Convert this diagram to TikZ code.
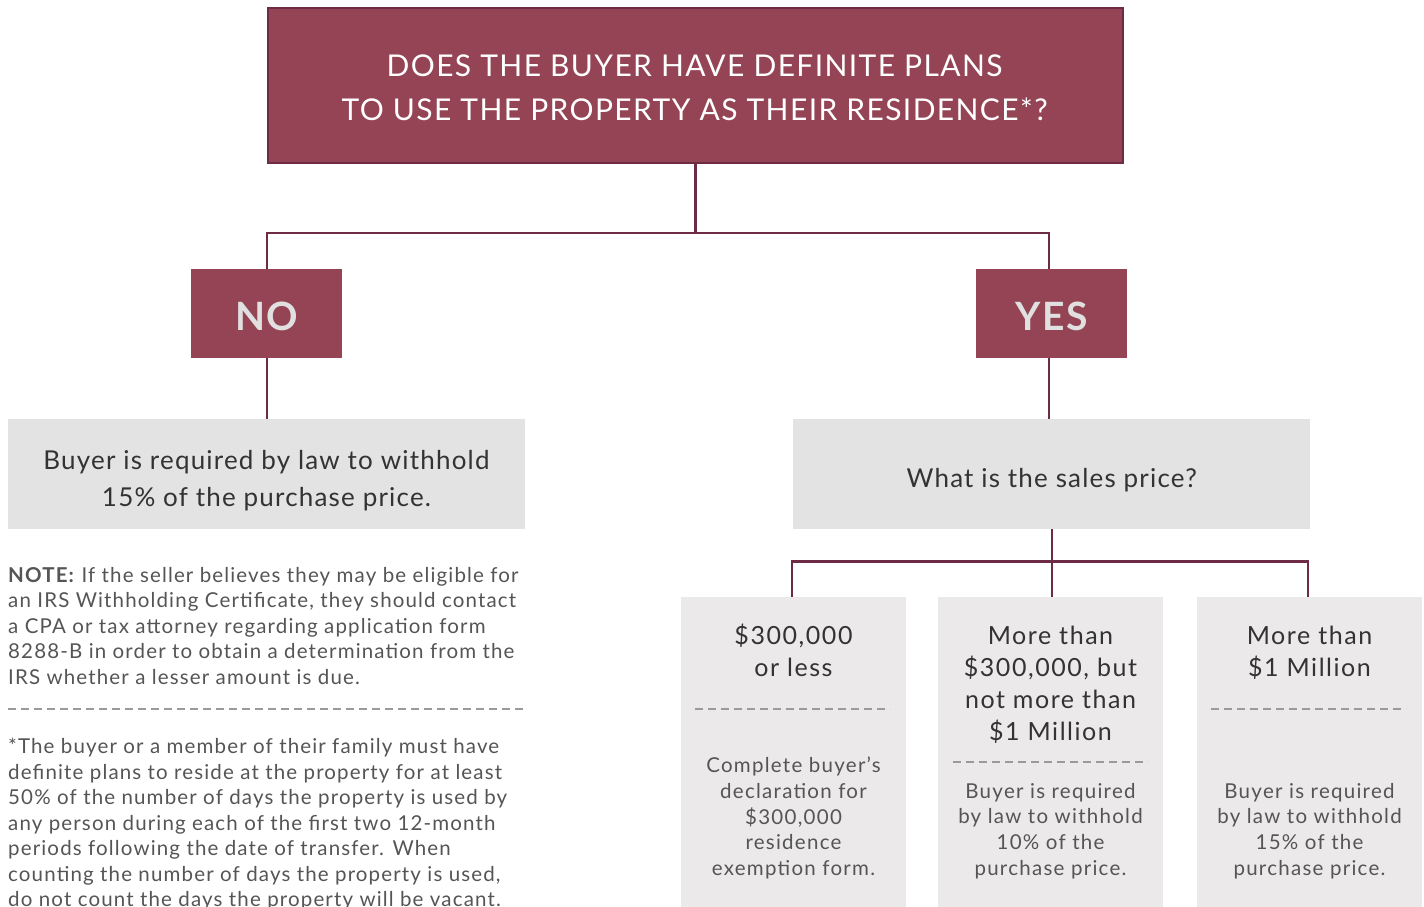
\documentclass[tikz,border=0pt]{standalone}
\usepackage{fontspec}
\setmainfont{Lato}[LetterSpace=4.6]
\newfontfamily\widefont{Lato}[LetterSpace=6.2]
\newfontfamily\notefont{Lato}[LetterSpace=5.6]
\definecolor{maroon}{HTML}{944454}
\definecolor{maroonline}{HTML}{6E2B45}
\definecolor{boxgrey}{HTML}{E3E3E3}
\definecolor{cellgrey}{HTML}{EBE9EA}
\definecolor{darktext}{HTML}{333333}
\definecolor{midtext}{HTML}{555555}
\definecolor{lighttext}{HTML}{E0E0E0}
\definecolor{dashgrey}{HTML}{9A9A9A}
\tikzset{
  maroonbox/.style={fill=maroon, inner sep=0pt, anchor=north west},
  greybox/.style={fill=boxgrey, inner sep=0pt, anchor=north west},
  cellbox/.style={fill=cellgrey, inner sep=0pt, anchor=north west},
  conn/.style={draw=maroonline, line width=2.2pt},
  sep/.style={draw=dashgrey, line width=2pt, dash pattern=on 8pt off 5pt},
  toptext/.style={text=white, align=center, font=\fontsize{30}{44}\selectfont},
  yntext/.style={text=lighttext, font=\fontsize{39}{44}\selectfont\bfseries},
  boxtext/.style={text=darktext, align=center, font=\fontsize{26}{37}\selectfont},
  headtext/.style={text=darktext, align=center, font=\widefont\fontsize{25}{32}\selectfont},
  desctext/.style={text=midtext, align=center, font=\widefont\fontsize{20.5}{25.7}\selectfont},
  notetext/.style={text=midtext, align=left, inner sep=0pt, anchor=north west, font=\notefont\fontsize{20.5}{25.5}\selectfont},
}
\begin{document}
\begin{tikzpicture}[x=1pt,y=-1pt]
\useasboundingbox (0,0) rectangle (1424,906);
\clip (0,0) rectangle (1424,906);
\fill[white] (0,0) rectangle (1424,906);
% top question
\node[maroonbox, draw=maroonline, line width=2pt, minimum width=855pt, minimum height=155pt] (top) at (267,7) {};
\node[toptext] (toptxt) at (694.5,87.5) {DOES THE BUYER HAVE DEFINITE PLANS\\TO USE THE PROPERTY AS THEIR RESIDENCE*?};
% no / yes
\node[maroonbox, minimum width=151pt, minimum height=89pt] (no) at (191,269) {};
\node[yntext] (notxt) at ([yshift=-3pt]no.center) {NO};
\node[maroonbox, minimum width=151pt, minimum height=89pt] (yes) at (976,269) {};
\node[yntext] (yestxt) at ([yshift=-3pt]yes.center) {YES};
% grey boxes
\node[greybox, minimum width=517pt, minimum height=110pt] (withhold) at (8,419) {};
\node[boxtext] (withtxt) at (266.5,481) {Buyer is required by law to withhold\\15\% of the purchase price.};
\node[greybox, minimum width=517pt, minimum height=110pt] (price) at (793,419) {};
\node[boxtext] (pricetxt) at ([yshift=-6pt]price.center) {What is the sales price?};
% cells
\node[cellbox, minimum width=225pt, minimum height=320pt] (c1) at (681,597) {};
\node[cellbox, minimum width=225pt, minimum height=320pt] (c2) at (938,597) {};
\node[cellbox, minimum width=225pt, minimum height=320pt] (c3) at (1197,597) {};
\node[headtext] (h1) at (793.5,650) {\$300,000\\or less};
\node[headtext] (h2) at (1050.5,685) {More than\\\$300,000, but\\not more than\\\$1 Million};
\node[headtext] (h3) at (1309.5,653) {More than\\\$1 Million};
\draw[sep] (695,709) -- (890,709);
\draw[sep] (953,762) -- (1148,762);
\draw[sep] (1211,709) -- (1406,709);
\node[desctext] (d1) at (793.5,818) {Complete buyer’s\\declaration for\\\$300,000\\residence\\exemption form.};
\node[desctext] (d2) at (1050.5,831) {Buyer is required\\by law to withhold\\10\% of the\\purchase price.};
\node[desctext] (d3) at (1309.5,831) {Buyer is required\\by law to withhold\\15\% of the\\purchase price.};
% connectors
\draw[conn] (top.south) -- ++(0,69) coordinate (j1) -| ([xshift=0.5pt]no.north);
\draw[conn] (j1) -| ([xshift=-2.5pt]yes.north);
\draw[conn] ([xshift=0.5pt]no.south) -- ([xshift=0.5pt]withhold.north -| no.south);
\draw[conn] ([xshift=-2.5pt]yes.south) -- ([xshift=-2.5pt]price.north -| yes.south);
\draw[conn] (price.south) -- ++(0,32) coordinate (j2) -| ([xshift=-1.5pt]c1.north);
\draw[conn] (j2) -| ([xshift=-1.5pt]c3.north);
\draw[conn] (j2) -- (j2 |- c2.north);
% notes
\node[notetext] (note) at (8,567) {\textbf{NOTE:} If the seller believes they may be eligible for\\an IRS Withholding Certificate, they should contact\\a CPA or tax attorney regarding application form\\8288-B in order to obtain a determination from the\\IRS whether a lesser amount is due.};
\draw[sep] (8,709) -- (525,709);
\node[notetext] (foot) at (8,738) {*The buyer or a member of their family must have\\definite plans to reside at the property for at least\\50\% of the number of days the property is used by\\any person during each of the first two 12-month\\periods following the date of transfer. When\\counting the number of days the property is used,\\do not count the days the property will be vacant.};
\end{tikzpicture}
\end{document}
